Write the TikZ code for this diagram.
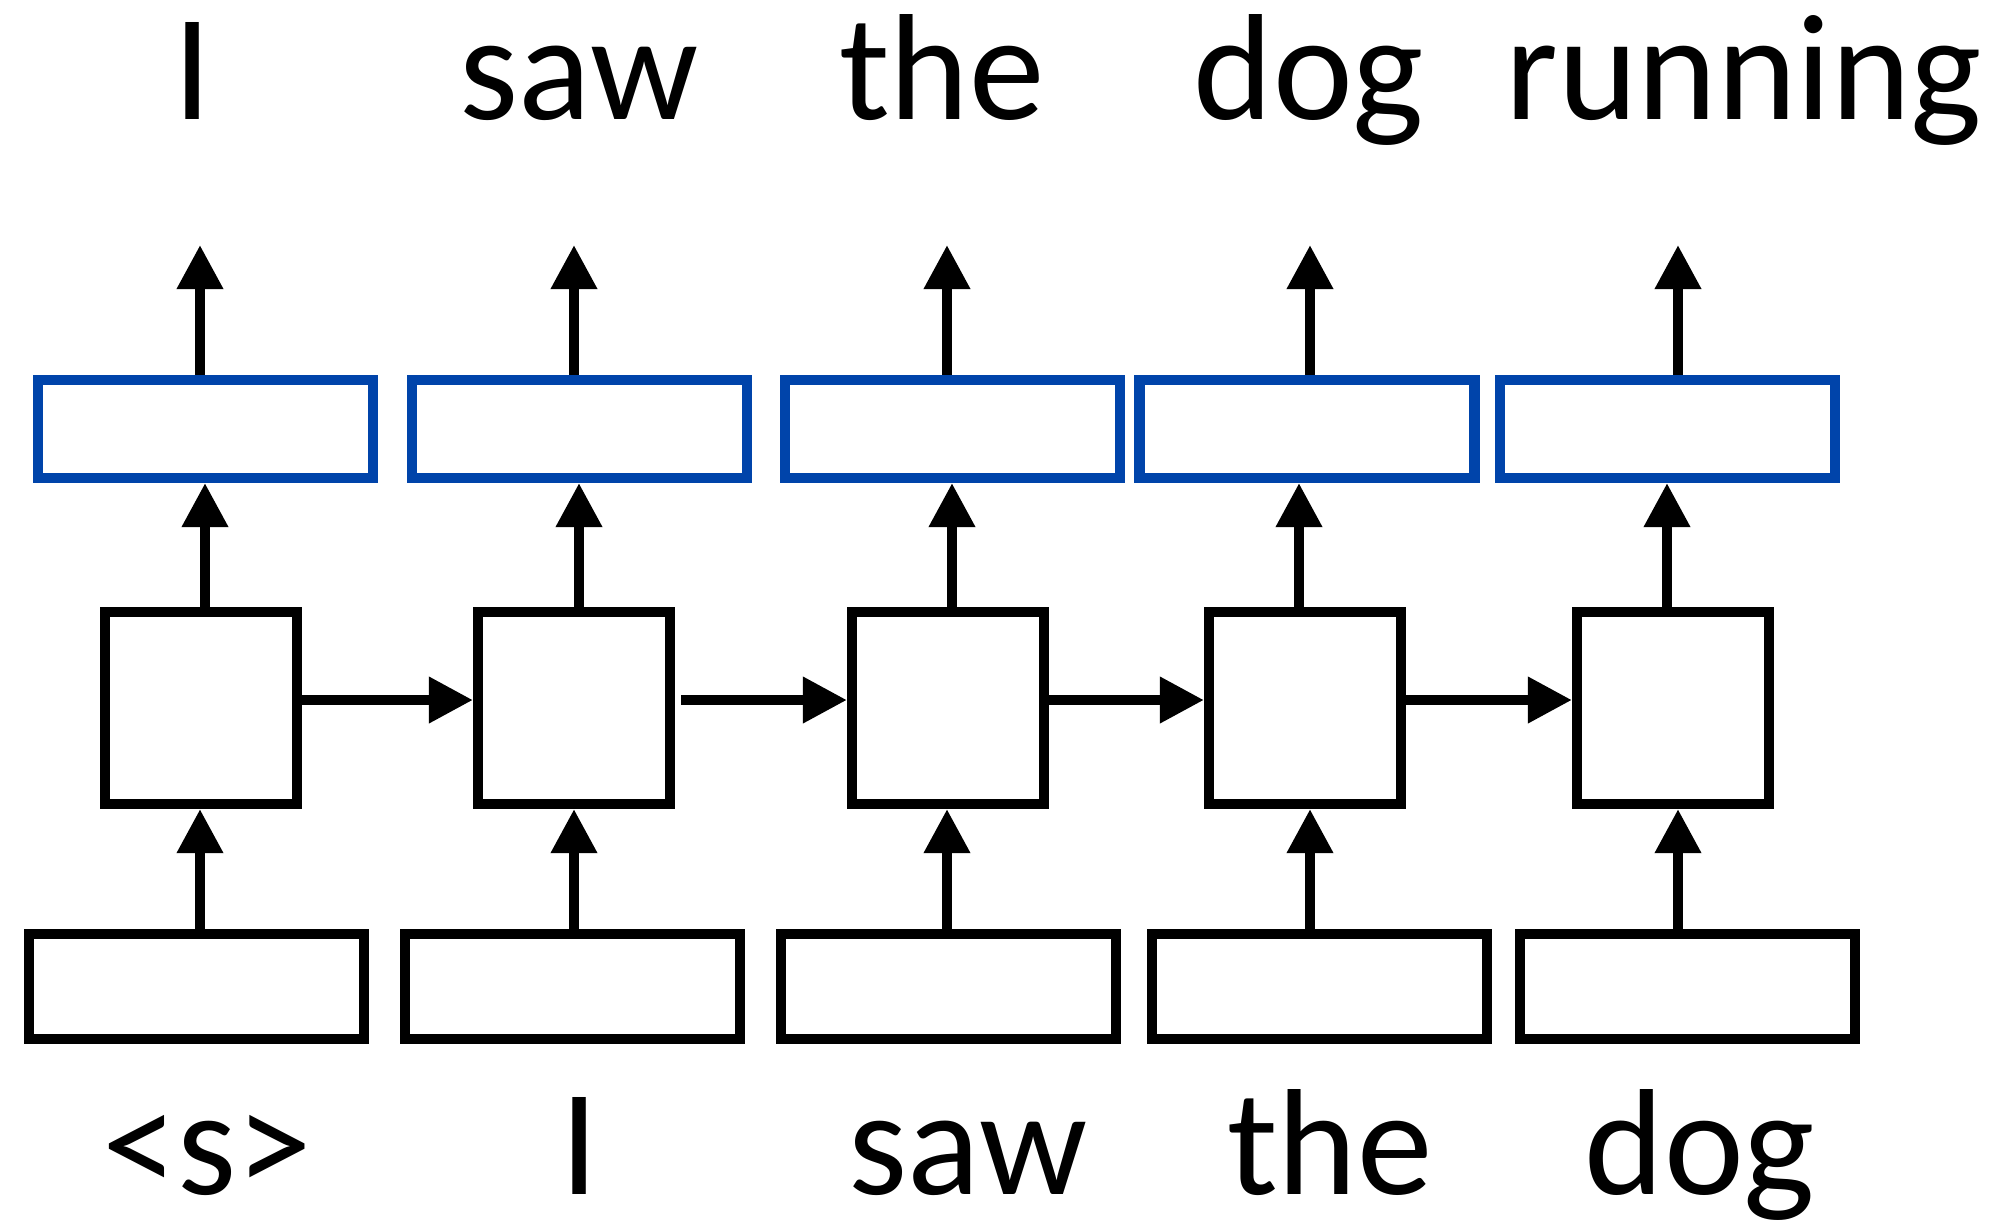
\documentclass[tikz,border=0pt]{standalone}
\usepackage{fontspec}
\setmainfont{Carlito}
\usetikzlibrary{arrows.meta}
\definecolor{boxblue}{RGB}{0,68,170}
\begin{document}
\begin{tikzpicture}[x=0.01cm,y=-0.01cm,
  every node/.style={inner sep=0pt},
  outbox/.style={draw=boxblue,line width=1.05mm,minimum width=3.345cm,minimum height=0.975cm},
  hidbox/.style={draw=black,line width=1.05mm,minimum width=1.915cm,minimum height=1.915cm},
  inbox/.style={draw=black,line width=1.05mm,minimum width=3.345cm,minimum height=1.045cm},
  arr/.style={line width=1.0mm,-{Triangle[length=4.4mm,width=4.4mm]}},
  word/.style={anchor=base,font=\fontsize{43}{50}\selectfont}]
\useasboundingbox (0,0) rectangle (1999,1220);
% output boxes
\node[outbox] (o1) at (205.5,429) {};
\node[outbox] (o2) at (579.5,429) {};
\node[outbox] (o3) at (952.5,429) {};
\node[outbox] (o4) at (1307,429) {};
\node[outbox] (o5) at (1667.5,429) {};
% hidden boxes
\node[hidbox] (h1) at (201,708) {};
\node[hidbox] (h2) at (574,708) {};
\node[hidbox] (h3) at (948,708) {};
\node[hidbox] (h4) at (1305,708) {};
\node[hidbox] (h5) at (1673,708) {};
% input boxes
\node[inbox] (i1) at (196.5,986.5) {};
\node[inbox] (i2) at (572.5,986.5) {};
\node[inbox] (i3) at (948.5,986.5) {};
\node[inbox] (i4) at (1319.5,986.5) {};
\node[inbox] (i5) at (1687.5,986.5) {};
% coordinates for arrows
\coordinate (t1) at (200,245);
\coordinate (t2) at (574,245);
\coordinate (t3) at (947,245);
\coordinate (t4) at (1310,245);
\coordinate (t5) at (1678,245);
\coordinate (m1) at (205,0);
\coordinate (m2) at (579,0);
\coordinate (m3) at (952,0);
\coordinate (m4) at (1299,0);
\coordinate (m5) at (1667,0);
\coordinate (hy) at (0,700);
% top arrows
\foreach \k in {1,...,5} {
  \draw[arr] (o\k.north -| t\k) -- (t\k);
  \draw[arr] (h\k.north -| m\k) -- (o\k.south -| m\k);
  \draw[arr] (i\k.north -| t\k) -- (h\k.south -| t\k);
}
% recurrent arrows
\draw[arr] (h1.east |- hy) -- (h2.west |- hy);
\draw[arr] ([xshift=0.06cm]h2.east |- hy) -- (h3.west |- hy);
\draw[arr] (h3.east |- hy) -- (h4.west |- hy);
\draw[arr] (h4.east |- hy) -- (h5.west |- hy);
% words
\node[word] (w1) at (193,119) {I};
\node[word] (w2) at (579,119) {saw};
\node[word] (w3) at (942,119) {the};
\node[word] (w4) at (1309,119) {dog};
\node[word] (w5) at (1744,119) {running};
\node[word] (x1) at (207,1194) {<s>};
\node[word] (x2) at (580,1194) {I};
\node[word] (x3) at (968,1194) {saw};
\node[word] (x4) at (1330,1194) {the};
\node[word] (x5) at (1700,1194) {dog};
\end{tikzpicture}
\end{document}
